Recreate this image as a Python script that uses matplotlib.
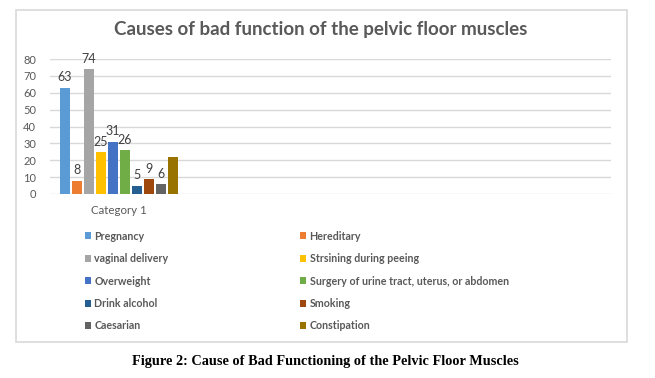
import matplotlib
matplotlib.use('Agg')
import matplotlib.pyplot as plt
from matplotlib.patches import Rectangle, Patch

# === DATI ===
cause = ['Pregnancy', 'Hereditary', 'vaginal delivery', 'Strsining during peeing',
         'Overweight', 'Surgery of urine tract, uterus, or abdomen', 'Drink alcohol',
         'Smoking', 'Caesarian', 'Constipation']
valori = [63, 8, 74, 25, 31, 26, 5, 9, 6, 22]
etichette = ['63', '8', '74', '25', '31', '26', '5', '9', '6', '']
colori = ['#5B9BD5', '#ED7D31', '#A5A5A5', '#FFC000', '#4472C4',
          '#70AD47', '#255E91', '#9E480E', '#636363', '#997300']
categoria = 'Category 1'
yticks = [0, 10, 20, 30, 40, 50, 60, 70, 80]

W, H = 655, 378
plt.rcParams['font.family'] = ['Lato', 'DejaVu Sans']
fig = plt.figure(figsize=(W / 100, H / 100), dpi=100)

# cornice del grafico
fig.patches.append(Rectangle((16 / W, 1 - 342 / H), (627 - 16) / W, (342 - 10) / H,
                             transform=fig.transFigure, fill=False,
                             edgecolor='#d9d9d9', linewidth=1.2))

ax = fig.add_axes([50 / W, 1 - 194 / H, (611 - 50) / W, (194 - 59) / H])
pos = list(range(len(valori)))
bars = ax.bar(pos, valori, width=0.83, color=colori, zorder=3)
for b, lab in zip(bars, etichette):
    ax.text(b.get_x() + b.get_width() / 2, b.get_height() + 2.5, lab,
            ha='center', va='bottom', fontsize=9, color='#404040')

ax.set_xlim(-1.25, 45.5)
ax.set_ylim(0, 80)
ax.set_yticks(yticks)
ax.tick_params(axis='y', length=0, labelsize=8, labelcolor='#595959', pad=10)
ax.set_xticks([4.5])
ax.set_xticklabels([categoria])
ax.tick_params(axis='x', length=0, labelsize=8.3, labelcolor='#595959', pad=8)
ax.grid(axis='y', color='#d9d9d9', linewidth=1, zorder=0)
for s in ax.spines.values():
    s.set_visible(False)

fig.text(321 / W, 1 - 30 / H, 'Causes of bad function of the pelvic floor muscles',
         ha='center', va='center', fontsize=13.5, fontweight='bold', color='#595959')

# legenda (ordine per righe come in Excel)
handles = [Patch(facecolor=c) for c in colori]
ordine = list(range(0, 10, 2)) + list(range(1, 10, 2))
fig.legend([handles[i] for i in ordine], [cause[i] for i in ordine],
           ncol=2, loc='upper left', bbox_to_anchor=(75 / W, 1 - 221 / H),
           frameon=False, handlelength=0.6, handleheight=0.6, handletextpad=0.3,
           columnspacing=12.3, labelspacing=1.07,
           prop={'size': 7.7, 'weight': 'bold'}, labelcolor='#595959')

fig.text(325 / W, 1 - 361 / H, 'Figure 2: Cause of Bad Functioning of the Pelvic Floor Muscles',
         ha='center', va='center', fontsize=10.3, fontweight='bold',
         family='Liberation Serif', color='#000000')

fig.savefig('out.png', dpi=100)
